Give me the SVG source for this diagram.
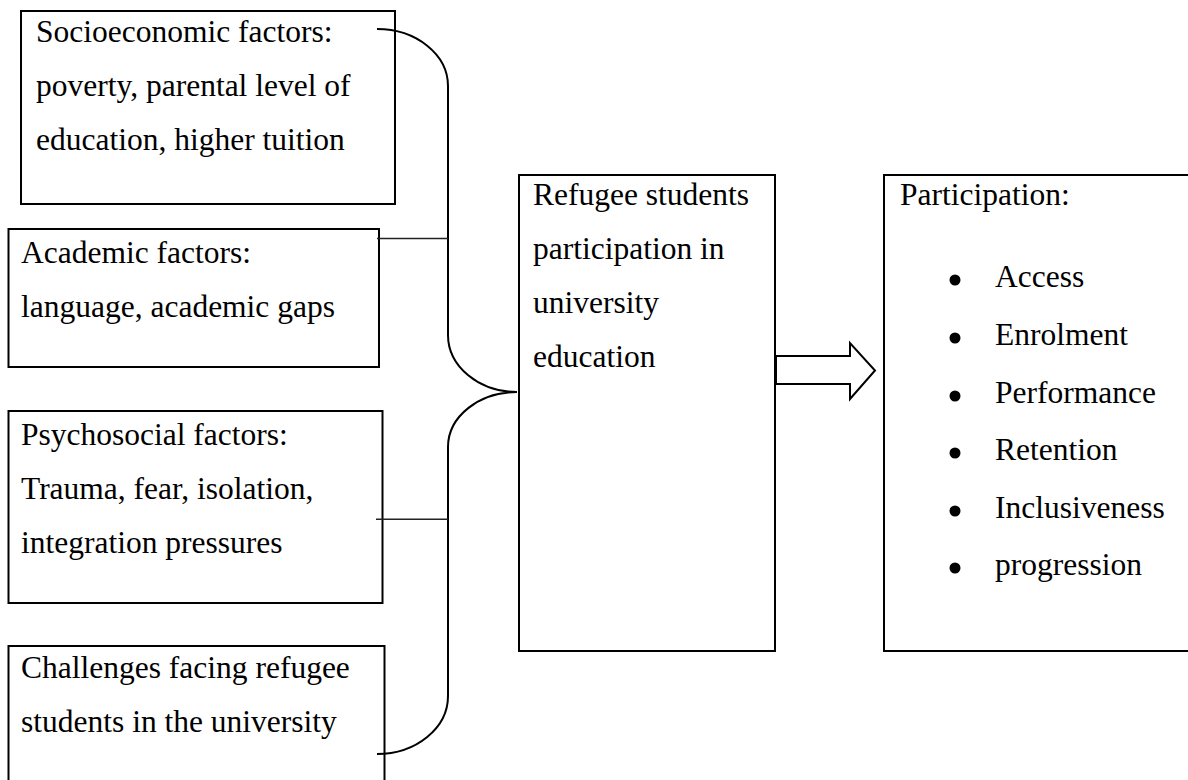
<svg xmlns="http://www.w3.org/2000/svg" width="1188" height="780" viewBox="0 0 1188 780">
<style>
.box{fill:#fff;stroke:#000;stroke-width:2}
.t{font-family:"Liberation Serif","Times New Roman",serif;font-size:31.5px;fill:#000}
.con{fill:none;stroke:#000;stroke-width:2}
.tick{fill:none;stroke:#222;stroke-width:1.6}
.arrow{fill:#fff;stroke:#000;stroke-width:2;stroke-linejoin:miter}
</style>
<rect width="1188" height="780" fill="#fff"/>
<g id="socioeconomic">
<rect class="box" x="21" y="11" width="374" height="193"/>
<text class="t" x="36" y="42">Socioeconomic factors:</text>
<text class="t" x="36" y="96">poverty, parental level of</text>
<text class="t" x="36" y="150">education, higher tuition</text>
</g>
<g id="academic">
<rect class="box" x="8.5" y="229" width="370.5" height="138"/>
<text class="t" x="21" y="263">Academic factors:</text>
<text class="t" x="21" y="317">language, academic gaps</text>
</g>
<g id="psychosocial">
<rect class="box" x="8.5" y="411" width="374" height="192"/>
<text class="t" x="21" y="445">Psychosocial factors:</text>
<text class="t" x="21" y="499">Trauma, fear, isolation,</text>
<text class="t" x="21" y="553">integration pressures</text>
</g>
<g id="challenges">
<rect class="box" x="8.5" y="646" width="376" height="145"/>
<text class="t" x="21" y="678">Challenges facing refugee</text>
<text class="t" x="21" y="732">students in the university</text>
</g>
<g id="refugee">
<rect class="box" x="519" y="175" width="256" height="476"/>
<text class="t" x="533" y="205">Refugee students</text>
<text class="t" x="533" y="259">participation in</text>
<text class="t" x="533" y="313">university</text>
<text class="t" x="533" y="367">education</text>
</g>
<g id="participation">
<rect class="box" x="884" y="175" width="310" height="476"/>
<text class="t" x="900" y="205">Participation:</text>
<g fill="#000">
<circle cx="955" cy="280" r="5.5"/>
<circle cx="955" cy="338" r="5.5"/>
<circle cx="955" cy="396" r="5.5"/>
<circle cx="955" cy="453" r="5.5"/>
<circle cx="955" cy="511" r="5.5"/>
<circle cx="955" cy="568" r="5.5"/>
</g>
<text class="t" x="995" y="287">Access</text>
<text class="t" x="995" y="345">Enrolment</text>
<text class="t" x="995" y="403">Performance</text>
<text class="t" x="995" y="460">Retention</text>
<text class="t" x="995" y="518">Inclusiveness</text>
<text class="t" x="995" y="575">progression</text>
</g>
<g id="connectors">
<path class="con" d="M377,29 A71,57 0 0 1 448,86 L448,335 A69,57 0 0 0 517,392 A69,55 0 0 0 448,447 L448,696 A71,58 0 0 1 377,754"/>
<line class="tick" x1="377" y1="238.5" x2="448" y2="238.5"/>
<line class="tick" x1="376" y1="519.3" x2="448" y2="519.3"/>
<polygon class="arrow" points="776,356 850,356 850,343 875,370.5 850,399 850,384 776,384"/>
<line x1="775" y1="357" x2="775" y2="383" stroke="#000" stroke-width="2"/>
</g>
</svg>
